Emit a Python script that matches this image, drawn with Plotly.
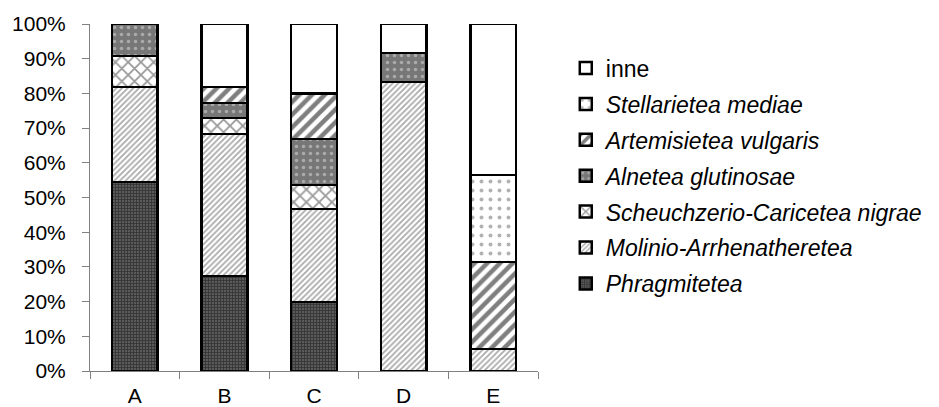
import plotly.graph_objects as go

categories = ["A", "B", "C", "D", "E"]
series_names = ["Phragmitetea", "Molinio-Arrhenatheretea", "Scheuchzerio-Caricetea nigrae",
                "Alnetea glutinosae", "Artemisietea vulgaris", "Stellarietea mediae", "inne"]
phragmitetea = [54.5, 27.4, 19.9, 0.0, 0.0]
molinio = [27.3, 40.9, 26.8, 83.3, 6.3]
scheuchzerio = [9.0, 4.6, 6.9, 0.0, 0.0]
alnetea = [9.2, 4.3, 13.3, 8.3, 0.0]
artemisietea = [0.0, 4.7, 13.1, 0.0, 25.1]
stellarietea = [0.0, 0.0, 0.0, 0.0, 25.1]
inne = [0.0, 18.1, 20.0, 8.4, 43.5]
tick_vals = [0, 10, 20, 30, 40, 50, 60, 70, 80, 90, 100]
tick_text = ["0%", "10%", "20%", "30%", "40%", "50%", "60%", "70%", "80%", "90%", "100%"]

values = [phragmitetea, molinio, scheuchzerio, alnetea, artemisietea, stellarietea, inne]
italic = [True, True, True, True, True, True, False]
patterns = [
    dict(shape="+", fgcolor="#111111", bgcolor="#5a5a5a", size=3, solidity=0.5),
    dict(shape="/", fgcolor="#555555", bgcolor="#ffffff", size=4, solidity=0.45),
    dict(shape="x", fgcolor="#333333", bgcolor="#ffffff", size=9, solidity=0.35),
    dict(shape=".", fgcolor="#dddddd", bgcolor="#777777", size=7, solidity=0.2),
    dict(shape="/", fgcolor="#000000", bgcolor="#ffffff", size=9, solidity=0.5),
    dict(shape=".", fgcolor="#666666", bgcolor="#ffffff", size=9, solidity=0.15),
    dict(shape="", fgcolor="#000000", bgcolor="#ffffff"),
]

fig = go.Figure()
n = len(series_names)
for i, (nm, vals) in enumerate(zip(series_names, values)):
    label = f"<i>{nm}</i>" if italic[i] else nm
    fig.add_trace(go.Bar(
        x=categories, y=vals, name=label, legendgroup=str(i), legendrank=n - i,
        marker=dict(color=patterns[i]["bgcolor"], pattern=patterns[i],
                    line=dict(color="#000000", width=2.5)),
    ))

# page body has an 8px margin, so the figure is offset by (8, 8)
fig.update_layout(
    barmode="stack", bargap=0.49,
    width=931, height=399,
    margin=dict(l=82, r=399, t=16, b=36),
    paper_bgcolor="white", plot_bgcolor="white",
    font=dict(family="Liberation Sans, Arial, sans-serif", size=21, color="#000000"),
    legend=dict(x=1.062, y=0.935, xanchor="left", yanchor="top",
                traceorder="grouped", tracegroupgap=3,
                font=dict(size=23), itemwidth=30),
    showlegend=True,
)
fig.update_yaxes(range=[0, 100], tickvals=tick_vals, ticktext=tick_text, automargin=False,
                 showgrid=False, showline=True, linecolor="#808080", linewidth=1,
                 ticks="outside", ticklen=7, tickcolor="#808080", zeroline=False,
                 ticklabelstandoff=12)
fig.update_xaxes(showgrid=False, showline=True, linecolor="#808080", linewidth=1, automargin=False,
                 ticks="outside", ticklen=7, tickcolor="#808080", tickson="boundaries",
                 ticklabelstandoff=6)

fig.write_html("out.html")
